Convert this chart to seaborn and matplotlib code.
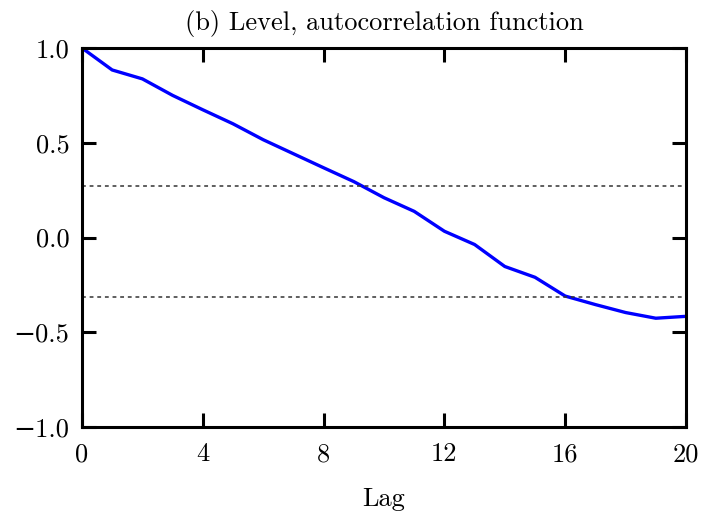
import numpy as np
import pandas as pd
import matplotlib
matplotlib.use("Agg")
import matplotlib.pyplot as plt
import seaborn as sns

lags = list(range(21))
acf = [1.0, 0.884, 0.837, 0.75, 0.674, 0.60, 0.516, 0.442, 0.368, 0.295, 0.21,
       0.138, 0.033, -0.037, -0.153, -0.21, -0.309, -0.354, -0.396, -0.426, -0.416]
upper_band = 0.27
lower_band = -0.314
xticks = [0, 4, 8, 12, 16, 20]
yticks = [-1.0, -0.5, 0.0, 0.5, 1.0]
ytick_labels = ["\u22121.0", "\u22120.5", "0.0", "0.5", "1.0"]
title = "(b) Level, autocorrelation function"
xlabel = "Lag"

sns.set_style("ticks")
plt.rcParams["font.family"] = ["cmr10", "DejaVu Serif"]
plt.rcParams["mathtext.fontset"] = "cm"
plt.rcParams["text.color"] = "black"
plt.rcParams["axes.labelcolor"] = "black"

df = pd.DataFrame({"lag": lags, "acf": acf})

fig = plt.figure(figsize=(7.04, 5.17), dpi=100)
ax = fig.add_axes([82/704, 1-427/517, (686-82)/704, (427-48)/517])

sns.lineplot(data=df, x="lag", y="acf", ax=ax, color="#0000ff", linewidth=2.4)
ax.axhline(upper_band, color="#333333", linestyle=(0, (2.5, 2.5)), linewidth=1.1)
ax.axhline(lower_band, color="#333333", linestyle=(0, (2.5, 2.5)), linewidth=1.1)

ax.set_xlim(0, 20)
ax.set_ylim(-1, 1)
ax.set_xticks(xticks)
ax.set_xticklabels([str(t) for t in xticks])
ax.set_yticks(yticks)
ax.set_yticklabels(ytick_labels)

for s in ax.spines.values():
    s.set_visible(True)
    s.set_linewidth(2.2)
    s.set_color("black")
ax.tick_params(axis="both", which="major", direction="in", length=10, width=2.2,
               top=True, right=True, labelsize=19, pad=9, colors="black")
ax.tick_params(axis="x", pad=11)
ax.set_title(title, fontsize=19, pad=13, color="black")
ax.set_xlabel(xlabel, fontsize=19, labelpad=15, color="black")
ax.set_ylabel("")

fig.savefig("out.png", dpi=100)
